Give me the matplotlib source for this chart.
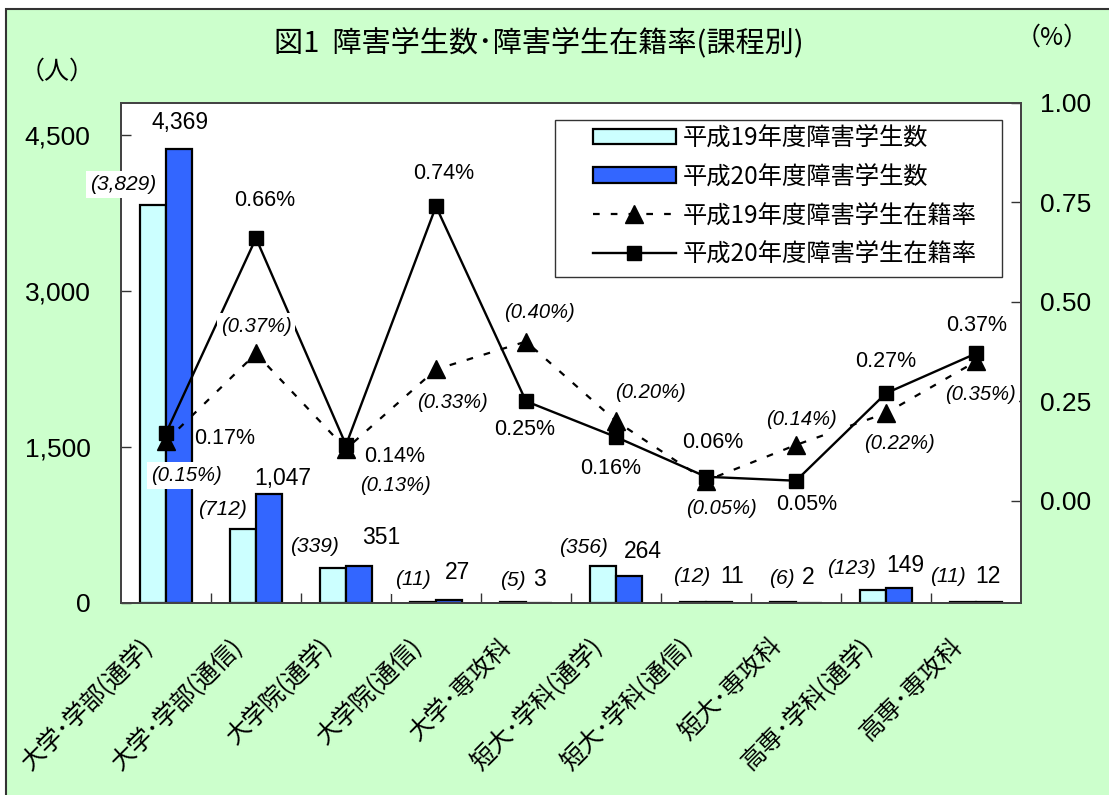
import matplotlib
matplotlib.use("Agg")
import matplotlib.pyplot as plt
from matplotlib.patches import Rectangle, Patch
from matplotlib.lines import Line2D
import numpy as np

plt.rcParams['font.family'] = ['Noto Sans CJK JP', 'DejaVu Sans']

# ---------------- data ----------------
categories = ['大学･学部(通学)', '大学･学部(通信)', '大学院(通学)', '大学院(通信)', '大学･専攻科',
              '短大･学科(通学)', '短大･学科(通信)', '短大･専攻科', '高専･学科(通学)', '高専･専攻科']
count_h19 = [3829, 712, 339, 11, 5, 356, 12, 6, 123, 11]
count_h20 = [4369, 1047, 351, 27, 3, 264, 11, 2, 149, 12]
rate_h19 = [0.15, 0.37, 0.13, 0.33, 0.40, 0.20, 0.05, 0.14, 0.22, 0.35]
rate_h20 = [0.17, 0.66, 0.14, 0.74, 0.25, 0.16, 0.06, 0.05, 0.27, 0.37]
left_ticks = [0, 1500, 3000, 4500]
right_ticks = [0.00, 0.25, 0.50, 0.75, 1.00]
series_names = ['平成19年度障害学生数', '平成20年度障害学生数', '平成19年度障害学生在籍率', '平成20年度障害学生在籍率']
title = '図1  障害学生数･障害学生在籍率(課程別)'

# label placement offsets (pixels)
off_c19 = [(-30, 20), (-20, 19), (-18, 21), (-10, 22), (0, 22), (-19, 18), (-1, 25), (-1, 24), (-21, 22), (-15, 25)]
off_c20 = [(1, 26), (14, 16), (22, 29), (8, 28), (0, 23), (14, 24), (13, 25), (-1, 25), (6, 22), (-1, 25)]
off_r20 = [(59, -5), (9, 38), (49, -12), (8, 33), (-1, -28), (-5, -32), (7, 34), (11, -24), (0, 32), (1, 28)]
off_r19 = [(20, -35), (0, 27), (49, -37), (16, -33), (13, 29), (34, 29), (15, -28), (5, 25), (13, -30), (4, -33)]

W, H = 1109, 795
fig = plt.figure(figsize=(W / 100, H / 100), dpi=100, facecolor='white')
fig.patches.append(Rectangle((6 / W, -0.01), 1.02, 1 - 9 / H + 0.01, transform=fig.transFigure,
                             facecolor='#CCFFCC', edgecolor='#333333', linewidth=1.5, zorder=-10))

ax = fig.add_axes([121 / W, (H - 603) / H, 900 / W, 500 / H])
ax.set_facecolor('white')
x = np.arange(len(categories))
bw = 0.29
light, dark = '#CCFFFF', '#3366FF'
b1 = ax.bar(x - bw / 2, count_h19, bw, color=light, edgecolor='black', linewidth=1.6, zorder=2)
b2 = ax.bar(x + bw / 2, count_h20, bw, color=dark, edgecolor='black', linewidth=1.6, zorder=2)
ax.set_xlim(-0.5, len(categories) - 0.5)
ax.set_ylim(0, 4808)
numfont = ['Liberation Sans', 'DejaVu Sans']
ax.set_yticks(left_ticks)
ax.set_yticklabels([f'{v:,}' for v in left_ticks], family=numfont, fontsize=19)
ax.tick_params(axis='y', direction='in', length=7, width=1, pad=22, colors='#333333', labelcolor='black')
ax.set_xticks(x)
ax.set_xticklabels([])
ax.tick_params(axis='x', which='major', length=0)
ax.set_xticks(x[:-1] + 0.5, minor=True)
ax.tick_params(axis='x', which='minor', direction='in', length=7, width=1, colors='#333333')
for s in ax.spines.values():
    s.set_color('#444444')
    s.set_linewidth(1.4)

ax2 = ax.twinx()
ax2.set_ylim(-0.2575, 1.0)
l19, = ax2.plot(x, rate_h19, color='black', linestyle=(0, (3, 5)), linewidth=1.6,
                marker='^', markersize=13, zorder=3)
l20, = ax2.plot(x, rate_h20, color='black', linestyle='-', linewidth=1.7,
                marker='s', markersize=10, zorder=4)
ax2.set_yticks(right_ticks)
ax2.set_yticklabels([f'{v:.2f}' for v in right_ticks], family=numfont, fontsize=19)
ax2.tick_params(axis='y', direction='in', length=7, width=1, pad=14, colors='#333333', labelcolor='black')
for s in ax2.spines.values():
    s.set_color('#444444')
    s.set_linewidth(1.4)

# value labels
for i in range(len(categories)):
    ax2.annotate(f'({count_h19[i]:,})', xy=(x[i] - bw / 2, count_h19[i]), xycoords=ax.transData,
                 xytext=off_c19[i], textcoords='offset pixels', ha='center', va='center',
                 fontsize=15, style='italic', family=numfont, zorder=6, annotation_clip=False,
                 bbox=dict(boxstyle='square,pad=0.2', facecolor='white', edgecolor='none'))
    ax2.annotate(f'{count_h20[i]:,}', xy=(x[i] + bw / 2, count_h20[i]), xycoords=ax.transData,
                 xytext=off_c20[i], textcoords='offset pixels', ha='center', va='center',
                 fontsize=16.5, family=numfont, zorder=6, annotation_clip=False)
    ax2.annotate(f'{rate_h20[i]:.2f}%', xy=(x[i], rate_h20[i]), xytext=off_r20[i],
                 textcoords='offset pixels', ha='center', va='center',
                 fontsize=15.5, family=numfont, zorder=6, annotation_clip=False)
    ax2.annotate(f'({rate_h19[i]:.2f}%)', xy=(x[i], rate_h19[i]), xytext=off_r19[i],
                 textcoords='offset pixels', ha='center', va='center',
                 fontsize=14.5, style='italic', family=numfont, zorder=6, annotation_clip=False,
                 bbox=dict(boxstyle='square,pad=0.2', facecolor='white', edgecolor='none'))

# category labels
for i, c in enumerate(categories):
    ax.annotate(c, xy=(x[i], 0), xycoords=ax.get_xaxis_transform(), xytext=(-27, -30),
                textcoords='offset pixels', rotation=45, rotation_mode='anchor',
                ha='right', va='top', fontsize=17.5, annotation_clip=False)

# legend (frame drawn as a separate box)
ax2.add_patch(Rectangle(((555 - 121) / 900, (603 - 277) / 500), 447 / 900, 157 / 500,
                        transform=ax2.transAxes, facecolor='white', edgecolor='#333333',
                        linewidth=1.0, zorder=7, clip_on=False))
handles = [Patch(facecolor=light, edgecolor='black', linewidth=1.6),
           Patch(facecolor=dark, edgecolor='black', linewidth=1.6),
           Line2D([], [], color='black', linestyle=(0, (3, 5)), linewidth=1.6, marker='^', markersize=13),
           Line2D([], [], color='black', linestyle='-', linewidth=1.7, marker='s', markersize=10)]
leg = ax2.legend(handles, series_names, loc='upper left',
                 bbox_to_anchor=((593 - 121) / 900, (603 - 125) / 500),
                 prop={'size': 17.5}, frameon=False, borderpad=0,
                 handlelength=3.4, handleheight=0.62, handletextpad=0.3, labelspacing=0.52,
                 borderaxespad=0)
leg.set_zorder(8)

fig.text(539 / W, 1 - 44 / H, title, ha='center', va='center', fontsize=21)
fig.text(57 / W, 1 - 72 / H, '（人）', ha='center', va='center', fontsize=18)
fig.text(1052 / W, 1 - 38 / H, '（%）', ha='center', va='center', fontsize=18)

fig.savefig('out.png', dpi=100, facecolor=fig.get_facecolor())
